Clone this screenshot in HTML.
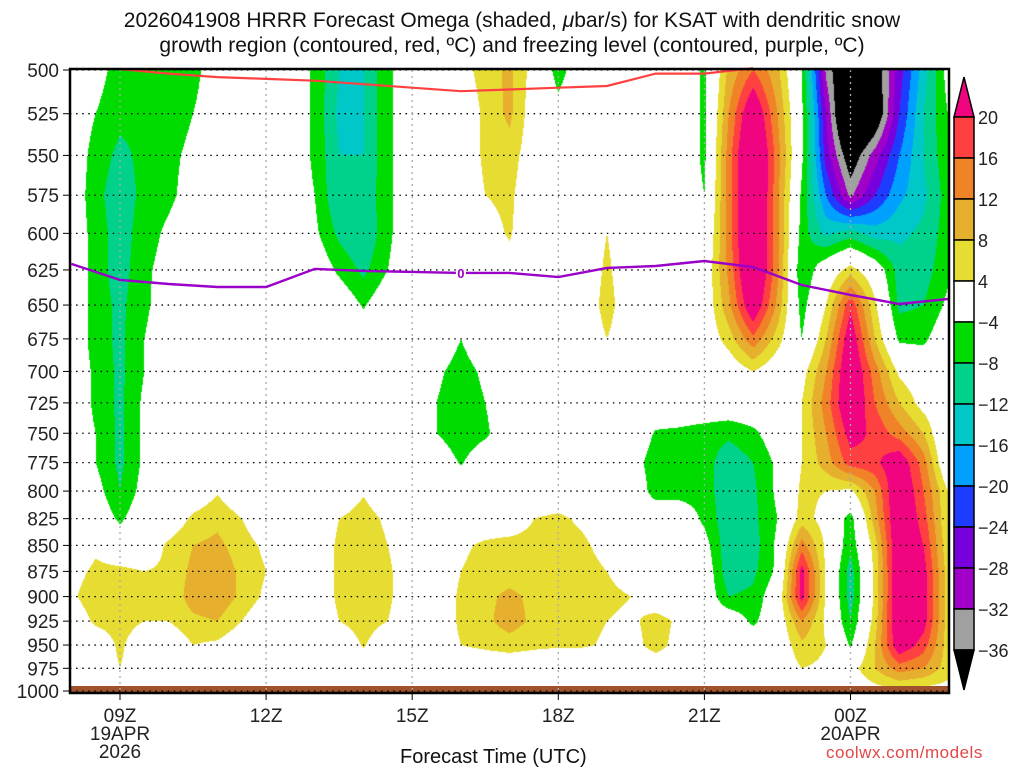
<!DOCTYPE html>
<html><head><meta charset="utf-8">
<style>
html,body{margin:0;padding:0;background:#fff;}
#wrap{position:relative;width:1024px;height:768px;overflow:hidden;font-family:"Liberation Sans",sans-serif;color:#111;}
.t{position:absolute;white-space:nowrap;}
#plot{position:absolute;left:70px;top:70px;}
svg{position:absolute;left:0;top:0;}
</style></head>
<body>
<div id="wrap">
<div class="t" style="left:0;width:1024px;top:8px;text-align:center;font-size:21px;line-height:25px;">2026041908 HRRR Forecast Omega (shaded, <i>μ</i>bar/s) for KSAT with dendritic snow<br>growth region (contoured, red, ºC) and freezing level (contoured, purple, ºC)</div>
<canvas id="plot" width="879" height="621"></canvas>
<svg id="ov" width="1024" height="768"></svg>
<div class="t" style="left:400px;top:746px;font-size:20px;">Forecast Time (UTC)</div>
<div class="t" style="left:826px;top:743px;font-size:17px;color:#e04848;letter-spacing:0.5px;">coolwx.com/models</div>
</div>
<script>
const pressures=[500,525,550,575,600,625,650,675,700,725,750,775,800,825,850,875,900,925,950,975,1000];
const xTickLabels=["09Z","12Z","15Z","18Z","21Z","00Z"];
const xTickHours=[1,4,7,10,13,16];
const cbLevels=[20,16,12,8,4,-4,-8,-12,-16,-20,-24,-28,-32,-36];
const omega=[
[0,-2,-6,-6,-6,-6,0,0,0,0,-5,-12,-12,-5,0,0,2,6,9,2,-6,0,0,0,0,0,-5,9,16,9,-4,-33,-45,-40,-26,-14,-2],
[0,-4,-7,-7,-6,-4,0,0,0,0,-5,-13,-12,-5,0,0,0,5,9,1,-2,0,0,0,0,0,-5,12,26,12,-3,-28,-50,-42,-24,-12,-4],
[0,-6,-9,-7,-5,-3,0,0,0,0,-5,-12,-12,-5,0,0,0,5,6,1,0,0,0,0,0,0,-5,14,30,14,-3,-26,-40,-30,-20,-12,-5],
[0,-7,-10,-7,-5,-2,0,0,0,0,-4,-12,-11,-5,0,0,0,4,5,0,0,0,0,0,0,0,-4,14,30,13,-5,-20,-33,-24,-17,-13,-6],
[0,-6,-10,-6,-3,0,0,0,0,0,-3,-9,-12,-5,0,0,0,2,4.5,0,0,0,4,0,0,0,-2,14,30,13,-6,-13,-10,-14,-13,-11,-6],
[0,-6,-10,-5,-2,0,0,0,0,0,0,-5,-9,-4,0,0,0,0,2,0,0,0,5,0,0,0,0,13,29,13,-8,0,6,0,-10,-10,-5],
[0,-6,-9,-5,-1,0,0,0,0,0,0,0,-4.5,0,0,0,0,0,0,0,0,0,6,0,0,0,0,11,25,11,-6,4,19,5,-9,-8,-3],
[0,-6,-9,-4,0,0,0,0,0,0,0,0,0,0,0,0,-4,0,0,0,0,0,4,0,0,0,0,6,15,6,-4,8,24,8,-5,-5,0],
[0,-5,-9,-4,0,0,0,0,0,0,0,0,0,0,0,-3,-6,-3,0,0,0,0,0,0,0,0,0,0,4,0,2,12,26,14,3,0,0],
[0,-5,-9,-3,0,0,0,0,0,0,0,0,0,0,0,-4,-7,-4,0,0,0,0,0,0,0,0,0,0,0,0,4,14,26,16,8,2,0],
[0,-4,-9,-3,0,0,0,0,0,0,0,0,0,0,0,-4,-7,-5,0,0,0,0,0,0,-4.5,-5,-6,-7,-5,-1,4,12,22,19,14,8,-3],
[0,-4,-9,-3,0,0,0,0,0,0,0,0,0,0,0,0,-4.5,0,0,0,0,0,0,-2,-6,-6,-6,-11,-8,-3,4,10,18,19,24,14,-2],
[0,-2,-8,-2,0,0,3.5,0,0,0,0,0,3.5,0,0,0,0,0,0,0,0,0,0,0,-6,-6,-6,-11,-9,-3,5,4,3,12,26,16,4],
[0,0,-5,0,0,5,7,4,0,0,0,4,6,3,0,0,0,0,0,4,5,3,0,0,0,0,-5,-11,-9,-4,6,2,-6,10,26,18,4],
[0,3,0,0,5,8,9,6,3,0,0,5,7,4,0,0,3,5,6,6,6,5,2,0,0,0,-2,-11,-10,-3,14,3,-7,6,26,20,5],
[2,5,5,4,5,9,11,7,4,0,0,5,7,5,0,0,4,6,6,6,6,6,4,2,0,0,0,-11,-9,-3,22,3,-10,5,26,22,6],
[3,7,8,5,5,10,11,7,3,0,0,5,7,5,0,0,5,7,9,7,6,6,5,4,0,0,0,-8,-7,0,22,3,-10,5,26,22,6],
[0,5,6,4,4,7,8,4,0,0,0,4,6,4,0,0,5,7,10,7,5,5,4,3,6,3,0,0,-5,0,12,3,-8,6,26,22,6],
[0,0,5,0,0,4,3,0,0,0,0,0,4.5,0,0,0,4,5,6,5,4.5,4.5,3.5,2,6,2,0,0,0,0,7,4,-4.5,8,24,18,6],
[0,0,4,0,0,0,0,0,0,0,0,0,0,0,0,0,0,0,0,0,0,0,0,0,0,0,0,0,0,0,4,3,2,8,14,12,6],
[0,0,0,0,0,0,0,0,0,0,0,0,0,0,0,0,0,0,0,0,0,0,0,0,0,0,0,0,0,0,0,0,0,2,3,2,2]
];
const redHours=[1,2,3,4,5,6,7,8,9,10,11,12,13,14];
const redPres=[499.5,502,504,505,506,508,510,512,511,510,509,502,502,499];
const frzHours=[0,1,2,3,4,5,6,7,8,9,10,11,12,13,14,15,16,17,18];
const frzPres=[620.8,632,634.9,637,637,624.3,625.7,626.4,627.1,627.1,630,623.6,622.3,618.8,623,635.6,642.7,649.2,645.6];

const X0=71.3, HR=48.7, YT=70, YB=691;
function xOf(h){return X0+HR*h;}
function yOf(p){return YT+(YB-YT)*Math.log(p/500)/Math.LN2;}
function colOf(v){
 if(v>=20)return[240,4,127];if(v>=16)return[255,64,64];if(v>=12)return[240,130,40];
 if(v>=8)return[230,175,45];if(v>=4)return[230,220,50];if(v>-4)return[255,255,255];
 if(v>-8)return[0,220,0];if(v>-12)return[0,210,140];if(v>-16)return[0,200,200];
 if(v>-20)return[0,160,255];if(v>-24)return[30,60,255];if(v>-28)return[120,0,220];
 if(v>-32)return[160,0,200];if(v>-36)return[160,160,160];return[0,0,0];}
const cv=document.getElementById('plot');const ctx=cv.getContext('2d');
const W=cv.width,H=cv.height;const img=ctx.createImageData(W,H);
const nc=omega[0].length,nr=omega.length;
for(let py=0;py<H;py++){
 const y=YT+py+0.5;const p=500*Math.pow(2,(y-YT)/(YB-YT));
 let r=(p-500)/25;if(r<0)r=0;if(r>nr-1)r=nr-1;const r0=Math.min(Math.floor(r),nr-2),fr=r-r0;
 for(let px=0;px<W;px++){
  const x=70+px+0.5;let c=(x-X0)/HR*2;if(c<0)c=0;if(c>nc-1)c=nc-1;
  const c0=Math.min(Math.floor(c),nc-2),fc=c-c0;
  const v=(omega[r0][c0]*(1-fc)+omega[r0][c0+1]*fc)*(1-fr)+(omega[r0+1][c0]*(1-fc)+omega[r0+1][c0+1]*fc)*fr;
  const k=colOf(v);const i=(py*W+px)*4;img.data[i]=k[0];img.data[i+1]=k[1];img.data[i+2]=k[2];img.data[i+3]=255;}}
ctx.putImageData(img,0,0);

const svg=document.getElementById('ov');const NS='http://www.w3.org/2000/svg';
function mk(tag,at,parent){const e=document.createElementNS(NS,tag);for(const k in at)e.setAttribute(k,at[k]);(parent||svg).appendChild(e);return e;}
let g=mk('rect',{x:70,y:686,width:879,height:7,fill:'#a0522d'});


pressures.forEach(p=>{
 const y=yOf(p);
 let l=mk('line',{x1:70,x2:949,y1:y,y2:y,stroke:'#000','stroke-width':1.3,'stroke-dasharray':'1.5 4.6'});
 
 
 mk('line',{x1:63,x2:70,y1:y,y2:y,stroke:'#000','stroke-width':1});
 let t=mk('text',{x:59,y:y+7,'text-anchor':'end','font-size':19,'font-family':'Liberation Sans, sans-serif',fill:'#222'});
 t.textContent=p;
 
 
});
xTickHours.forEach((h,i)=>{
 const x=xOf(h);
 let l=mk('line',{x1:x,x2:x,y1:70,y2:691,stroke:'#aaa','stroke-width':1.3,'stroke-dasharray':'2 4'});
 
 
 mk('line',{x1:x,x2:x,y1:693,y2:700,stroke:'#000','stroke-width':1});
 let t=mk('text',{x:x,y:722,'text-anchor':'middle','font-size':19,'font-family':'Liberation Sans, sans-serif',fill:'#222'});
 t.textContent=xTickLabels[i];
 
 
});
[["19APR",xOf(1),740],["2026",xOf(1),758],["20APR",xOf(16),740]].forEach(d=>{
 let t=mk('text',{x:d[1],y:d[2],'text-anchor':'middle','font-size':19,'font-family':'Liberation Sans, sans-serif',fill:'#222'});
 t.textContent=d[0];
 
 
});
function linePath(hs,ps){return hs.map((h,i)=>(i?'L':'M')+xOf(h).toFixed(1)+' '+Math.max(68,yOf(ps[i])).toFixed(1)).join(' ');}
let rl=mk('path',{d:linePath(redHours,redPres),fill:'none',stroke:'#ff4040','stroke-width':2.2});


let pl=mk('path',{d:linePath(frzHours,frzPres),fill:'none',stroke:'#9a00c8','stroke-width':2.4});


let lx=xOf(8),ly=yOf(frzPres[8]);
mk('rect',{x:lx-5,y:ly-7,width:10,height:14,fill:'#fff'});
let lt=mk('text',{x:lx,y:ly+5,'text-anchor':'middle','font-size':13,'font-weight':'bold','font-family':'Liberation Sans, sans-serif',fill:'#9a00c8'});
lt.textContent='0';


let fr=mk('rect',{x:70,y:69,width:879,height:624,fill:'none',stroke:'#000','stroke-width':2.5});


const cbX=954,cbW=20,cbTop=117,cbStep=41;
const cbFill=['#f0047f','#ff4040','#f08228','#e6af2d','#e6dc32','#ffffff','#00dc00','#00d28c','#00c8c8','#00a0ff','#1e3cff','#7800dc','#a000c8','#a0a0a0','#000000'];
let tri=mk('polygon',{points:`${cbX},${cbTop} ${cbX+cbW/2},77 ${cbX+cbW},${cbTop}`,fill:cbFill[0],stroke:'#000','stroke-width':1.5});


for(let i=0;i<cbLevels.length-1;i++){
 let r=mk('rect',{x:cbX,y:cbTop+i*cbStep,width:cbW,height:cbStep,fill:cbFill[i+1],stroke:'#000','stroke-width':1.5});
 
 
}
let yb=cbTop+(cbLevels.length-1)*cbStep;
let tri2=mk('polygon',{points:`${cbX},${yb} ${cbX+cbW/2},690 ${cbX+cbW},${yb}`,fill:'#000',stroke:'#000','stroke-width':1.5});


cbLevels.forEach((v,i)=>{
 let t=mk('text',{x:978,y:cbTop+i*cbStep+7,'font-size':18,'font-family':'Liberation Sans, sans-serif',fill:'#222'});
 t.textContent=v<0?'\u2212'+(-v):String(v);
 
 
});
</script>
</body></html>
